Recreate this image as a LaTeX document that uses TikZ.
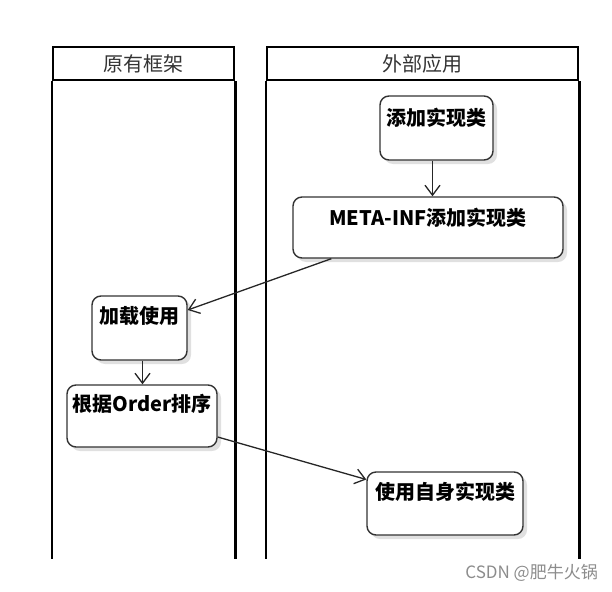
\documentclass[tikz,border=0pt]{standalone}
\usepackage{fontspec}
\setmainfont{Noto Sans CJK SC}
\usetikzlibrary{arrows.meta,shadows}
\begin{document}
\begin{tikzpicture}[x=1pt,y=-1pt,
  lane/.style={line width=2.5pt, draw=black},
  lanehead/.style={draw=black, line width=2.5pt, font=\fontsize{20}{21}\selectfont, text=black!80, inner sep=0pt},
  box/.style={draw=black!80, line width=1.4pt, rounded corners=9pt, fill=white,
    drop shadow={shadow xshift=4pt, shadow yshift=-4pt, fill=black!12, opacity=1}},
  boxtext/.style={font=\bfseries\fontsize{20}{21}\selectfont, inner sep=0pt},
  flow/.style={draw=black!85, line width=1.3pt, -{Straight Barb[length=10pt,width=15pt]}}]
\useasboundingbox (0,0) rectangle (612,591);
% lanes
\node[lanehead, minimum width=181pt, minimum height=33pt] (h1) at (143.5,63.5) {原有框架};
\node[lanehead, minimum width=311pt, minimum height=33pt] (h2) at (422.5,63.5) {外部应用};
\draw[lane] (h1.south west) -- ++(0,478);
\draw[lane] (h1.south east) -- ++(0,478);
\draw[lane] (h2.south west) -- ++(0,478);
\draw[lane] (h2.south east) -- ++(0,478);
% boxes
\node[box, minimum width=113pt, minimum height=64pt] (b1) at (436.5,128) {};
\node[boxtext] (t1) at ([yshift=-22pt]b1.north) {添加实现类};
\node[box, minimum width=270pt, minimum height=61pt] (b2) at (428,227.5) {};
\node[boxtext] (t2) at ([yshift=-21pt]b2.north) {META-INF添加实现类};
\node[box, minimum width=95pt, minimum height=64pt] (b3) at (139.5,328) {};
\node[boxtext] (t3) at ([yshift=-21pt]b3.north) {加载使用};
\node[box, minimum width=150pt, minimum height=62pt] (b4) at (142,416) {};
\node[boxtext] (t4) at ([yshift=-20pt]b4.north) {根据Order排序};
\node[box, minimum width=156pt, minimum height=63pt] (b5) at (445,503.5) {};
\node[boxtext] (t5) at ([yshift=-20pt]b5.north) {使用自身实现类};
% connectors
\coordinate (a1) at ([xshift=-4pt]b1.south);
\draw[flow] (a1) -- (a1 |- b2.north);
\coordinate (a2) at ([xshift=39pt]b2.south west);
\coordinate (a3) at ([yshift=18pt]b3.east);
\draw[flow] (a2) -- (a3);
\coordinate (a4) at ([xshift=3pt]b3.south);
\draw[flow] (a4) -- (a4 |- b4.north);
\coordinate (a5) at ([yshift=-21pt]b4.east);
\coordinate (a6) at ([yshift=24pt]b5.west);
\draw[flow] (a5) -- (a6);
% watermark
\node[font=\fontsize{17}{18}\selectfont, text=black!45, anchor=east, inner sep=0pt] (wm) at (598,573) {CSDN @肥牛火锅};
\end{tikzpicture}
\end{document}
